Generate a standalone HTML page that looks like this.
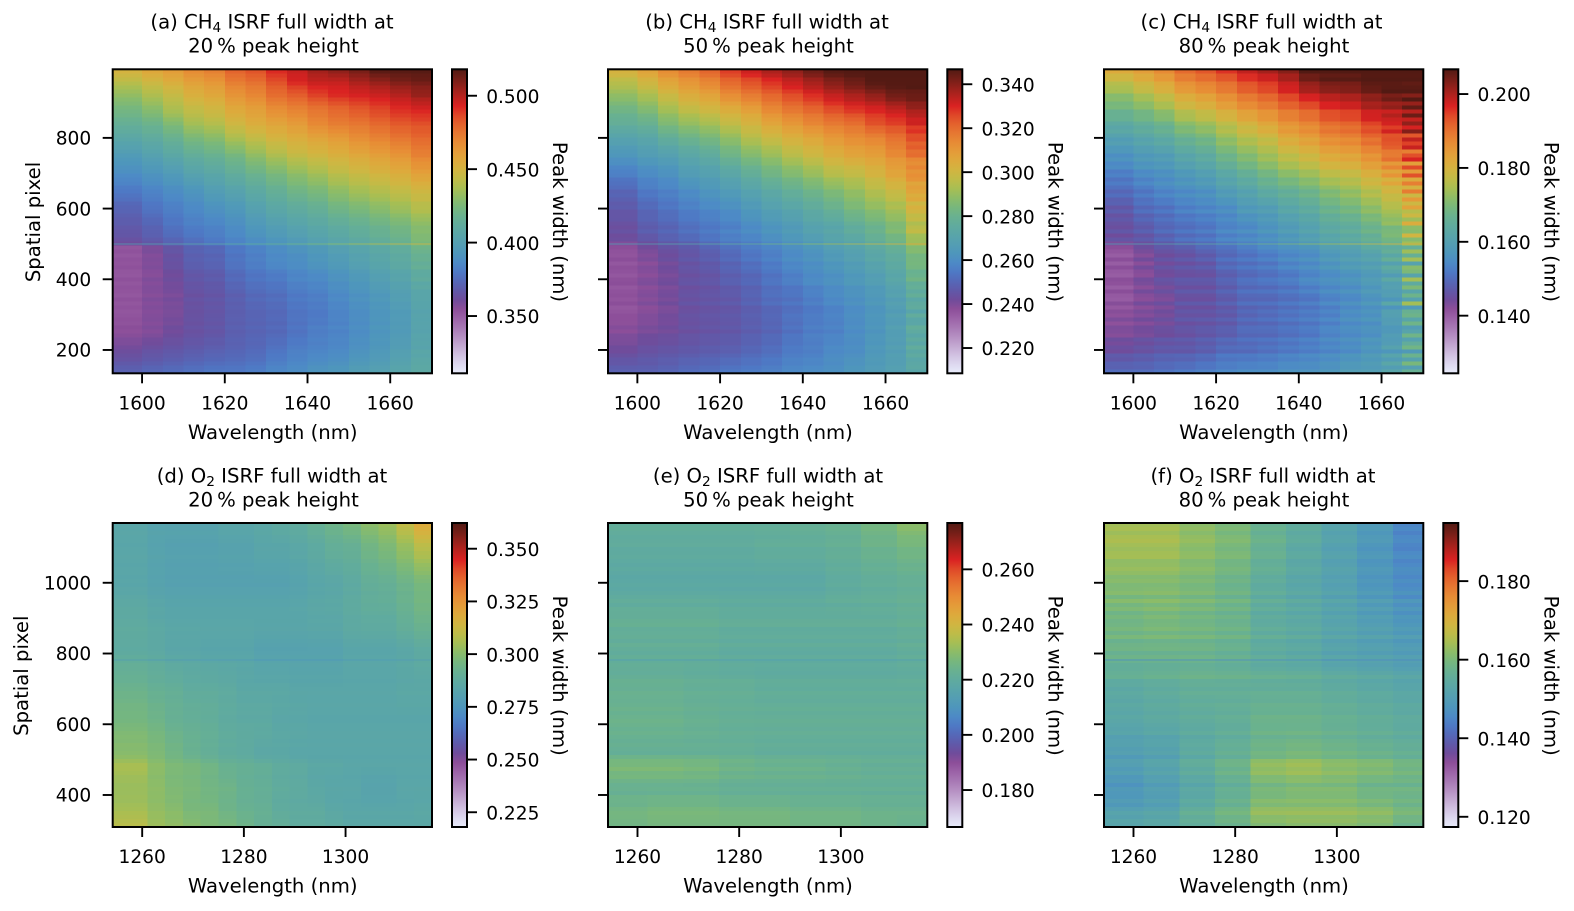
<!DOCTYPE html>
<html lang="en">
<head>
<meta charset="utf-8">
<title>ISRF peak width maps</title>
<style>
html,body{margin:0;padding:0;background:#fff;}
svg{display:block;}
text{font-family:"DejaVu Sans","Liberation Sans",sans-serif;fill:#000;}
.title,.label{font-size:19.65px;}
.tick{font-size:18.6px;}
.sub{font-size:13.7px;}
</style>
</head>
<body>
<svg id="figure" xmlns="http://www.w3.org/2000/svg" width="1574" height="911" viewBox="0 0 1574 911">
  <defs id="defs"></defs>
  <g text-anchor="middle">
    <text class="title" x="272" y="28.7">(a) CH<tspan class="sub" dy="3.5">4</tspan><tspan dy="-3.5"> ISRF full width at</tspan></text>
    <text class="title" x="273.5" y="52.4">20&#8201;% peak height</text>
    <text class="title" x="767" y="28.7">(b) CH<tspan class="sub" dy="3.5">4</tspan><tspan dy="-3.5"> ISRF full width at</tspan></text>
    <text class="title" x="768.5" y="52.4">50&#8201;% peak height</text>
    <text class="title" x="1261.5" y="28.7">(c) CH<tspan class="sub" dy="3.5">4</tspan><tspan dy="-3.5"> ISRF full width at</tspan></text>
    <text class="title" x="1264" y="52.4">80&#8201;% peak height</text>
    <text class="title" x="272" y="482.7">(d) O<tspan class="sub" dy="3.5">2</tspan><tspan dy="-3.5"> ISRF full width at</tspan></text>
    <text class="title" x="273.5" y="506.4">20&#8201;% peak height</text>
    <text class="title" x="768" y="482.7">(e) O<tspan class="sub" dy="3.5">2</tspan><tspan dy="-3.5"> ISRF full width at</tspan></text>
    <text class="title" x="768.5" y="506.4">50&#8201;% peak height</text>
    <text class="title" x="1263" y="482.7">(f) O<tspan class="sub" dy="3.5">2</tspan><tspan dy="-3.5"> ISRF full width at</tspan></text>
    <text class="title" x="1264" y="506.4">80&#8201;% peak height</text>
  </g>
</svg>
<script>
/* ---------- colour scale ---------- */
const colorStops = ['#E8ECFB','#DDD8EF','#D1C1E1','#C3A8D1','#B58FC2','#A778B4','#9B62A7','#8C4E99','#6F4C9B','#6059A9','#5568B8','#4E79C5','#4D8AC6','#4E96BC','#549EB3','#59A5A9','#60AB9E','#69B190','#77B77D','#8CBC68','#A6BE54','#BEBC48','#D1B541','#DDAA3C','#E49C39','#E78C35','#E67932','#E4632D','#DF4828','#DA2222','#B8221E','#95211B','#721E17','#521A13'];

/* ---------- wavelength column edges (nm) ---------- */
const edgesCH4 = [1592.9,1600,1605,1610,1615,1620,1625,1630,1635,1640,1645,1650,1655,1660,1665,1670.1];
const edgesO2Fine = [1254.2,1261,1264.5,1268,1271.5,1275,1278.5,1282,1285.5,1289,1292.5,1296,1299.5,1303,1306.5,1310,1313.5,1317];
const edgesO2 = [1254.2,1262,1269,1276,1283,1290,1297,1304,1311,1317];

/* ---------- spatial pixels at which each row of widths was read ---------- */
const spatialCH4 = [994,960,920,880,840,800,750,700,650,600,550,505,495,450,400,350,300,250,200,134];
const spatialO2 = [1169,1100,1000,900,800,700,600,520,480,420,360,310];

/* ---------- peak widths (picometres), one row per spatial pixel entry ---------- */
const widthsA = [
[452,458,462,469,473,481,485,493,497,504,508,512,518,518,518],
[442,448,454,460,464,473,477,485,493,497,497,502,506,510,512],
[431,438,444,452,456,464,469,477,481,487,491,493,495,499,504],
[423,429,438,444,448,456,460,467,471,475,479,483,487,491,493],
[415,419,427,436,440,448,454,458,462,469,473,475,479,483,485],
[407,411,417,425,429,438,444,450,454,458,462,467,471,475,479],
[396,401,407,413,417,423,431,438,444,448,452,456,460,464,471],
[388,392,396,403,407,413,419,425,431,436,442,446,450,454,460],
[380,384,388,392,398,403,409,415,421,425,431,436,440,444,448],
[372,378,382,386,390,394,401,407,411,415,421,425,429,434,440],
[368,372,378,382,384,388,394,399,403,407,411,415,419,423,429],
[364,368,372,376,380,384,388,392,396,401,405,409,413,417,425],
[353,359,366,372,374,380,384,388,392,396,401,405,409,413,421],
[353,357,364,370,372,378,382,386,388,392,396,401,405,409,415],
[353,357,361,366,368,374,378,380,384,386,390,394,399,403,409],
[353,357,359,364,366,370,374,376,380,382,386,390,394,399,405],
[353,357,359,364,366,370,372,374,378,380,384,388,392,396,403],
[355,357,361,364,366,370,372,374,378,382,384,388,392,396,403],
[361,364,366,368,370,372,374,378,382,384,386,390,394,399,405],
[372,374,376,378,380,380,382,386,388,392,394,399,401,405,409]];
const widthsB = [
[303,308,314,318,322,328,333,337,340,344,347,347,347,347,347],
[296,301,307,311,315,321,325,329,333,337,341,344,347,347,347],
[289,293,299,304,307,313,317,321,325,329,333,336,339,343,344],
[282,286,292,297,300,304,308,314,318,321,325,328,330,333,337],
[277,279,285,289,292,297,301,306,310,314,317,319,324,326,330],
[270,272,277,281,284,289,295,299,303,306,310,313,315,319,325],
[263,266,268,272,275,281,286,290,295,299,303,306,308,313,318],
[256,259,261,266,268,272,277,282,286,290,295,297,301,306,311],
[250,255,257,260,263,266,270,274,278,282,286,290,295,299,306],
[246,250,253,256,258,260,264,268,271,275,279,284,288,292,300],
[244,248,250,253,255,257,260,263,266,270,272,277,281,286,295],
[242,245,248,250,253,256,257,260,263,266,270,272,277,282,292],
[237,241,244,246,249,252,255,257,260,263,267,270,274,278,286],
[237,239,242,245,247,250,253,256,259,261,264,267,271,275,284],
[237,239,241,244,245,248,250,253,256,259,261,264,267,271,278],
[237,239,241,244,245,246,249,252,253,256,259,261,264,268,275],
[237,239,241,244,245,246,248,250,253,255,257,260,263,267,274],
[239,241,242,244,245,246,248,250,253,256,257,260,263,267,274],
[242,244,245,246,247,248,250,252,255,256,259,260,264,267,274],
[249,249,250,252,253,255,256,257,259,260,261,264,266,268,272]];
const widthsC = [
[182,184,187,191,193,196,199,201,203,207,207,207,207,207,207],
[177,180,183,187,189,191,194,196,199,203,205,205,207,207,207],
[172,175,178,182,184,187,190,192,195,198,200,201,203,205,205],
[168,170,173,177,179,182,185,187,190,192,195,196,199,200,203],
[164,166,168,172,174,177,180,183,186,188,191,192,195,197,200],
[160,162,164,167,169,173,176,178,182,184,187,188,191,194,197],
[156,158,159,162,164,168,171,174,177,179,182,183,186,189,192],
[153,155,156,158,160,163,166,169,172,174,177,178,181,184,188],
[150,152,154,155,156,159,161,164,166,168,171,173,176,179,184],
[147,150,151,153,154,155,158,159,162,164,167,169,172,175,179],
[146,148,150,151,152,154,155,157,159,161,164,165,168,171,176],
[145,146,148,150,151,153,154,155,157,159,161,163,165,168,173],
[141,144,146,147,149,150,152,154,155,156,159,160,163,165,170],
[141,143,145,146,147,150,151,152,154,155,157,159,160,163,168],
[141,143,145,146,146,148,150,151,152,154,155,156,158,160,166],
[141,143,144,146,146,148,150,150,151,152,154,155,157,159,165],
[142,143,144,146,146,147,149,150,151,152,153,155,156,159,164],
[143,144,145,146,147,148,150,150,151,152,154,155,156,158,163],
[145,146,147,147,148,150,150,151,152,153,154,155,157,159,163],
[150,150,151,152,153,154,155,155,156,156,157,159,159,161,164]];
const widthsD = [
[284,282,282,282,282,284,284,285,287,288,291,294,297,301,304,311,319],
[284,282,281,281,281,282,282,284,284,285,287,290,291,295,298,303,309],
[284,282,281,281,281,281,281,281,281,282,284,285,287,290,291,294,297],
[287,285,284,284,284,284,284,284,284,284,285,285,287,288,288,291,294],
[288,287,285,285,284,284,284,282,282,282,282,282,284,284,284,285,287],
[293,291,290,288,288,287,285,285,285,284,284,284,284,284,284,285,285],
[297,295,292,291,290,288,287,287,285,285,284,284,284,284,284,284,284],
[300,298,295,292,290,288,287,285,285,284,284,284,284,284,284,284,284],
[306,301,298,297,295,292,291,290,288,287,285,285,284,284,284,284,284],
[303,301,298,297,295,294,291,290,288,287,285,284,284,282,282,284,284],
[305,302,300,297,297,294,292,291,288,287,287,285,284,284,284,284,285],
[309,304,302,300,298,297,294,291,290,288,288,287,285,285,285,285,285]];
const widthsE = [
[221,221,221,221,221,222,223,226,230],
[220,220,220,220,221,221,222,224,226],
[218,218,218,218,218,218,220,221,222],
[222,222,222,221,221,221,221,221,222],
[221,221,221,220,220,220,220,220,221],
[223,223,222,222,221,221,221,221,221],
[224,224,223,222,222,222,222,222,222],
[222,222,222,222,221,221,221,221,221],
[228,228,227,225,224,224,223,222,222],
[223,223,223,222,222,222,222,222,222],
[225,226,226,225,225,224,224,223,223],
[226,227,227,227,227,226,226,225,224]];
const widthsF = [
[164,164,162,160,157,155,152,149,145],
[164,164,162,160,157,154,151,148,145],
[161,161,160,158,155,153,151,148,146],
[159,160,159,158,155,154,152,150,148],
[158,158,158,157,155,154,152,151,150],
[154,155,156,156,156,156,155,154,153],
[153,154,155,156,158,158,157,156,155],
[150,151,154,156,158,159,158,157,156],
[150,152,155,158,163,164,162,161,159],
[148,150,153,156,159,160,160,158,158],
[150,151,155,158,162,162,162,161,159],
[153,154,156,158,161,162,162,161,158]];

/* ---------- row-to-row scatter (pm), top to bottom of each map ---------- */
const streakA = [0,0,1,0,-1,0,1,0,0,-1,0,1,0,0,-1,1,0,0,-1,0,1,0,-1,0,0,1,-1,0,1,-1,0,0,1,-1,0,1,0,-1,1,-1,0,1,-1,2,-1,1,-2,1,0,2,-1,-2,2,-1,1,0,-2,2,-1,1,-1,0,1,-1,2,-1,0,1,-1,0,1,0,-1,0,1,0];
const streakB = [0,1,-1,0,1,0,-1,1,0,-1,1,-1,0,1,-1,1,0,-1,1,-1,0,1,-1,1,-1,0,2,-1,0,1,-2,1,0,-1,2,-1,0,1,-1,-2,2,-1,1,-2,2,0,-1,2,-2,1,0,-2,1,2,-2,0,1,-1,2,-2,-1,1,0,-1,1,-2,1,0,-1,1,-1,0,1,-1,0,0];
const streakC = [1,-1,2,-1,0,2,-2,1,-1,2,-2,0,2,-1,-2,2,0,-2,2,-1,1,-2,2,-1,2,-2,1,-2,2,0,-2,2,-1,1,-2,2,-2,1,-1,-2,2,-2,2,-1,2,0,-2,2,-2,2,-1,-2,2,1,-2,2,-1,-2,2,-2,1,-1,2,-2,1,0,-2,2,-1,1,-2,2,-1,1,-1,1];
const streakD = [0,0,1,0,0,-1,0,0,1,0,-1,0,0,-1,0,-1,0,-1,0,1,0,1,0,-1,0,0,1,0,0,-1,-1,-2,-1,0,0,1,0,0,0,-1,0,0,1,0,0,1,0,0,-1,-1,0,0,1,1,0,1,0,0,-1,0,1,0,0,-1,0,0,1,0,0,-1,0,0,1,0,0,0];
const streakE = [0,1,0,-1,0,1,-1,0,1,0,-1,1,0,-1,0,1,-1,0,1,2,-1,1,0,-1,1,2,-1,0,1,-1,2,0,-1,1,-1,0,-1,-2,-1,1,0,-1,1,0,-1,0,1,-1,0,1,0,-1,1,0,-1,1,0,-1,1,2,-1,1,-1,2,0,-1,1,-2,1,0,-1,1,2,1,0,-1];
const streakF = [0,1,-1,1,2,0,-1,1,2,-1,0,2,1,-1,1,-1,0,2,-2,3,-1,2,-2,1,-1,0,2,-1,3,-2,0,1,-2,1,0,-2,-1,1,3,-1,0,-1,1,0,-1,1,0,-1,1,0,-1,-1,1,-2,0,1,0,2,-2,2,1,-1,2,-1,1,-2,2,0,-1,1,-2,1,3,0,1,-1];

/* ---------- extra scatter in the long-wavelength columns (pm) ---------- */
const edgeA = [0,0,1,0,-1,0,1,-1,0,1,0,-1,1,0,-1,0,1,-1,1,0,-1,1,0,-1,1,-1,0,1,-1,1,0,-1,1,-1,0,1,-1,1,-1,0,1,-1,2,-1,1,-1,0,1,-1,2,-1,1,3,-1,1,-2,1,-1,1,0,-1,1,-1,2,-1,0,1,-1,1,-2,1,-1,1,0,-1,0];
const edgeB = [0,0,0,0,1,-1,0,1,-1,2,-2,1,-1,2,-2,1,-2,2,-3,3,-1,2,-3,-5,3,-1,2,4,-3,1,3,-2,4,-3,2,3,-2,1,-3,3,4,-2,-3,3,-1,2,-2,-3,2,1,-2,3,6,-2,4,-2,3,-3,-1,4,-5,3,-3,-2,4,3,-4,2,-2,3,-1,2,-3,1,2,-1];
const edgeC = [0,0,1,-1,0,2,-2,3,-3,2,-4,5,-6,4,-2,6,-8,5,-3,7,-9,4,8,-10,6,-5,9,-7,3,-8,10,-9,6,-4,8,-6,3,-7,9,-5,-8,10,-6,4,-9,7,-3,8,-10,5,6,-7,12,-4,9,-8,5,-6,14,-9,3,7,-5,9,-8,-3,10,-6,4,8,-7,5,-4,9,-6,3];
const edgeNone = [];

/* ---------- anomalous single detector row (pm per column) ---------- */
const defectA = [400,402,404,406,408,410,413,416,420,425,430,436,441,446,450];
const defectB = [268,268,270,272,274,276,278,282,285,288,292,295,298,302,306];
const defectC = [159,160,161,162,163,164,166,168,170,172,174,176,178,180,182];
const defectD = [278,277,277,276,276,276,276,275,275,275,275,275,276,276,277,277,278];
const defectE = [213,213,213,213,213,213,213,213,214];
const defectF = [146,146,146,146,146,146,145,145,145];

/* ---------- axis ticks ---------- */
const xTicksCH4 = [1600,1620,1640,1660];
const xTicksO2 = [1260,1280,1300];
const yTicksCH4 = [200,400,600,800];
const yTicksO2 = [400,600,800,1000];
const cbarTicksA = ['0.350','0.400','0.450','0.500'];
const cbarTicksB = ['0.220','0.240','0.260','0.280','0.300','0.320','0.340'];
const cbarTicksC = ['0.140','0.160','0.180','0.200'];
const cbarTicksD = ['0.225','0.250','0.275','0.300','0.325','0.350'];
const cbarTicksE = ['0.180','0.200','0.220','0.240','0.260'];
const cbarTicksF = ['0.120','0.140','0.160','0.180'];

const xDomainCH4 = [1592.9,1670.1];
const xDomainO2 = [1254.2,1317];
const yDomainCH4 = [134,994];
const yDomainO2 = [309.5,1169];

const panels = [
 {id:'a',col:0,row:0,widths:widthsA,spatial:spatialCH4,edges:edgesCH4,streak:streakA,edge:edgeA,defect:defectA,defectAt:500,xd:xDomainCH4,yd:yDomainCH4,xt:xTicksCH4,yt:yTicksCH4,vmin:0.311,vmax:0.518,cb:cbarTicksA},
 {id:'b',col:1,row:0,widths:widthsB,spatial:spatialCH4,edges:edgesCH4,streak:streakB,edge:edgeB,defect:defectB,defectAt:500,xd:xDomainCH4,yd:yDomainCH4,xt:xTicksCH4,yt:yTicksCH4,vmin:0.2085,vmax:0.3468,cb:cbarTicksB},
 {id:'c',col:2,row:0,widths:widthsC,spatial:spatialCH4,edges:edgesCH4,streak:streakC,edge:edgeC,defect:defectC,defectAt:500,xd:xDomainCH4,yd:yDomainCH4,xt:xTicksCH4,yt:yTicksCH4,vmin:0.1244,vmax:0.2067,cb:cbarTicksC},
 {id:'d',col:0,row:1,widths:widthsD,spatial:spatialO2,edges:edgesO2Fine,streak:streakD,edge:edgeNone,defect:defectD,defectAt:782,xd:xDomainO2,yd:yDomainO2,xt:xTicksO2,yt:yTicksO2,vmin:0.218,vmax:0.3622,cb:cbarTicksD},
 {id:'e',col:1,row:1,widths:widthsE,spatial:spatialO2,edges:edgesO2,streak:streakE,edge:edgeNone,defect:defectE,defectAt:782,xd:xDomainO2,yd:yDomainO2,xt:xTicksO2,yt:yTicksO2,vmin:0.1666,vmax:0.2768,cb:cbarTicksE},
 {id:'f',col:2,row:1,widths:widthsF,spatial:spatialO2,edges:edgesO2,streak:streakF,edge:edgeNone,defect:defectF,defectAt:782,xd:xDomainO2,yd:yDomainO2,xt:xTicksO2,yt:yTicksO2,vmin:0.1174,vmax:0.1948,cb:cbarTicksF}
];

/* ---------- layout ---------- */
const NS = 'http://www.w3.org/2000/svg';
const svg = document.getElementById('figure');
const defs = document.getElementById('defs');
const colLeft = [112.7,608,1104];
const rowTop = [69.3,523];
const axW = 319.3, axH = 304, fineRows = 76;
const streakGain = 0.5, edgeGain = 0.6;

function node(tag, attrs, parent){
  const el = document.createElementNS(NS, tag);
  for (const k in attrs) el.setAttribute(k, attrs[k]);
  parent.appendChild(el);
  return el;
}
const linear = (d0,d1,r0,r1) => v => r0 + (v-d0)/(d1-d0)*(r1-r0);
const stopRGB = colorStops.map(h => [1,3,5].map(i => parseInt(h.substr(i,2),16)));
function colormap(t){
  t = Math.max(0, Math.min(1, t));
  const p = t*(stopRGB.length-1), i = Math.min(Math.floor(p), stopRGB.length-2), f = p-i;
  const c = stopRGB[i].map((a,j) => Math.round(a+(stopRGB[i+1][j]-a)*f));
  return 'rgb('+c[0]+','+c[1]+','+c[2]+')';
}
/* value of one wavelength column at a spatial pixel, shaded between read rows */
function columnValue(p, c, s){
  const rows = p.spatial;
  if (s >= rows[0]) return p.widths[0][c];
  for (let r = 0; r < rows.length-1; r++){
    if (s <= rows[r] && s >= rows[r+1]){
      const f = (rows[r]-s)/(rows[r]-rows[r+1]);
      return p.widths[r][c] + (p.widths[r+1][c]-p.widths[r][c])*f;
    }
  }
  return p.widths[rows.length-1][c];
}

panels.forEach(p => {
  const L = colLeft[p.col], T = rowTop[p.row], B = T+axH, R = L+axW;
  const xs = linear(p.xd[0],p.xd[1],L,R);
  const ys = linear(p.yd[0],p.yd[1],B,T);
  const cs = linear(p.vmin,p.vmax,B,T);
  const tone = pm => colormap((pm/1000-p.vmin)/(p.vmax-p.vmin));

  const g = node('g',{},svg);
  
  

  const map = node('g',{'shape-rendering':'crispEdges'},g);
  
  
  const nCols = p.edges.length-1;
  for (let k = 0; k < fineRows; k++){
    const s = p.yd[1] - (k+0.5)/fineRows*(p.yd[1]-p.yd[0]);
    const y0 = ys(p.yd[1] - k/fineRows*(p.yd[1]-p.yd[0]));
    const y1 = ys(p.yd[1] - (k+1)/fineRows*(p.yd[1]-p.yd[0]));
    for (let c = 0; c < nCols; c++){
      let v = columnValue(p,c,s) + (p.streak[k]||0)*streakGain;
      if (c === nCols-1) v += (p.edge[k]||0)*edgeGain;
      if (c === nCols-2) v += (p.edge[k]||0)*edgeGain*0.3;
      const x0 = xs(p.edges[c]), x1 = xs(p.edges[c+1]);
      const cell = node('rect',{x:x0.toFixed(2),y:y0.toFixed(2),width:(x1-x0+0.4).toFixed(2),height:(y1-y0+0.4).toFixed(2),fill:tone(v)},map);
      
      
    }
  }
  /* anomalous detector row */
  const dy = ys(p.defectAt);
  p.defect.forEach((v,c) => {
    const x0 = xs(p.edges[c]), x1 = xs(p.edges[c+1]);
    const line = node('rect',{x:x0.toFixed(2),y:(dy-0.6).toFixed(2),width:(x1-x0).toFixed(2),height:'1.2',fill:tone(v),opacity:'0.75'},map);
    
    
  });

  /* axes frame */
  const frame = node('rect',{x:L,y:T,width:axW,height:axH,fill:'none',stroke:'#000','stroke-width':2},g);
  
  

  /* x ticks */
  p.xt.forEach(v => {
    const x = xs(v);
    const t = node('line',{x1:x,x2:x,y1:B,y2:B+10,stroke:'#000','stroke-width':1.9},g);
    
    
    const lab = node('text',{x:x,y:B+36,'text-anchor':'middle',class:'tick'},g);
    lab.textContent = v;
    
    
  });
  const xl = node('text',{x:L+160,y:B+65.7,'text-anchor':'middle',class:'label'},g);
  xl.textContent = 'Wavelength (nm)';
  
  

  /* y ticks */
  p.yt.forEach(v => {
    const y = ys(v);
    const t = node('line',{x1:L-10,x2:L,y1:y,y2:y,stroke:'#000','stroke-width':1.9},g);
    
    
    if (p.col === 0){
      const lab = node('text',{x:L-21.5,y:y+6.7,'text-anchor':'end',class:'tick'},g);
      lab.textContent = v;
      
      
    }
  });
  if (p.col === 0){
    const yx = p.row === 0 ? 40 : 28;
    const yc = T+152.7;
    const yl = node('text',{x:yx,y:yc,'text-anchor':'middle',class:'label',transform:'rotate(-90 '+yx+' '+yc+')'},g);
    yl.textContent = 'Spatial pixel';
    
    
  }

  /* colour bar */
  const gid = 'cbar-grad-'+p.id;
  const grad = node('linearGradient',{id:gid,x1:0,y1:1,x2:0,y2:0},defs);
  colorStops.forEach((c,i) => node('stop',{offset:(i/(colorStops.length-1)).toFixed(4),'stop-color':c},grad));
  const cx = L+axW+20;
  const bar = node('rect',{x:cx,y:T,width:15,height:axH,fill:'url(#'+gid+')',stroke:'#000','stroke-width':2},g);
  
  
  p.cb.forEach(txt => {
    const y = cs(parseFloat(txt));
    const t = node('line',{x1:cx+15,x2:cx+25,y1:y,y2:y,stroke:'#000','stroke-width':1.9},g);
    
    
    const lab = node('text',{x:cx+34.2,y:y+7.2,class:'tick'},g);
    lab.textContent = txt;
    
    
  });
  const px = L+440.3, py = T+152.7;
  const cl = node('text',{x:px,y:py,'text-anchor':'middle',class:'label',transform:'rotate(90 '+px+' '+py+')'},g);
  cl.textContent = 'Peak width (nm)';
  
  
});
</script>
</body>
</html>
